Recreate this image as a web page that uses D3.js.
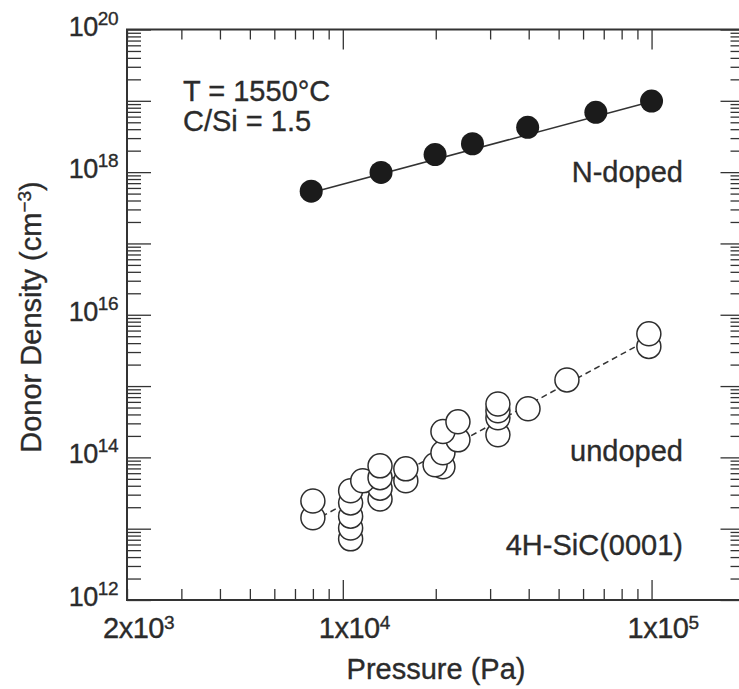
<!DOCTYPE html>
<html>
<head>
<meta charset="utf-8">
<script src="https://cdn.jsdelivr.net/npm/d3@7"></script>
<style>
  html, body { margin: 0; padding: 0; background: #fff; }
  svg { display: block; }
  text { font-family: "Liberation Sans", Arial, Helvetica, sans-serif; fill: #2b2b2b; stroke: #2b2b2b; stroke-width: 0.35px; }
</style>
</head>
<body>
<svg id="chart" width="739" height="689"></svg>
<script>
// N-doped layers (filled symbols)
const nDopedPressure = [7900, 13300, 19900, 26300, 39700, 66000, 100000];
const nDopedDensity  = [5.4e17, 9.9e17, 1.76e18, 2.5e18, 4.25e18, 6.9e18, 9.9e18];
// guide line through the N-doped series
const nDopedFitPressure = [7300, 100000];
const nDopedFitDensity  = [4.7e17, 9.8e18];

// undoped layers (open symbols)
const undopedPressure = [
  8000, 8000,
  10600, 10600, 10600, 10600, 10600,
  11600,
  13200, 13200, 13200, 13200,
  16000, 16000,
  19900,
  21100, 21100, 21100,
  23600, 23600,
  31800, 31800, 31800, 31800,
  39800,
  53200,
  98000, 98000
];
const undopedDensity = [
  2.45e13, 1.42e13,
  3.4e13, 2.3e13, 1.5e13, 1.02e13, 7.2e12,
  4.7e13,
  7.6e13, 5.2e13, 3.7e13, 2.6e13,
  6.9e13, 4.7e13,
  7.9e13,
  1.16e14, 7.4e13, 2.3e14,
  3.15e14, 1.76e14,
  5.6e14, 4.5e14, 3.6e14, 2.07e14,
  4.8e14,
  1.22e15,
  5.4e15, 3.6e15
];
// dashed guide line through the undoped series
const undopedFitPressure = [8000, 98000];
const undopedFitDensity  = [1.27e13, 4.5e15];

// axis ticks and labels
const xDomain = [2e3, 2e5];
const yDomain = [1e12, 1e20];
const xLabelValues    = [2e3, 1e4, 1e5];
const xLabelMantissa  = ["2", "1", "1"];
const xLabelExponent  = ["3", "4", "5"];
const yLabelValues    = [1e12, 1e14, 1e16, 1e18, 1e20];
const yLabelExponent  = ["12", "14", "16", "18", "20"];

const svg = d3.select("#chart");
const plotLeft = 127, plotRight = 744.5, plotTop = 29.5, plotBottom = 600;

const x = d3.scaleLog().domain(xDomain).range([plotLeft, plotRight]);
const y = d3.scaleLog().domain(yDomain).range([plotBottom, plotTop]);

// tick positions: decades (major) and 2..9 multiples (minor)
function logTicks(domain) {
  const major = [], minor = [];
  const lo = Math.floor(Math.log10(domain[0])), hi = Math.ceil(Math.log10(domain[1]));
  for (let e = lo; e <= hi; e++) {
    const d = Math.pow(10, e);
    if (d >= domain[0] && d <= domain[1]) major.push(d);
    for (let m = 2; m <= 9; m++) {
      const v = m * d;
      if (v >= domain[0] * 0.999 && v <= domain[1] * 1.001) minor.push(v);
    }
  }
  return { major, minor };
}
const xt = logTicks(xDomain), yt = logTicks(yDomain);

const tickColor = "#333", tickWidth = 1.3;
function styleAxis(g) {
  g.select(".domain").remove();
  g.selectAll(".tick line").attr("stroke", tickColor).attr("stroke-width", tickWidth);
  g.selectAll(".tick text").remove();
}

// bottom edge, ticks pointing up into the plot
svg.append("g").attr("transform", `translate(0,${plotBottom})`)
  .call(d3.axisTop(x).tickValues(xt.minor).tickSize(11).tickFormat("")).call(styleAxis);
svg.append("g").attr("transform", `translate(0,${plotBottom})`)
  .call(d3.axisTop(x).tickValues(xt.major).tickSize(20).tickFormat("")).call(styleAxis);
// top edge, ticks pointing down
svg.append("g").attr("transform", `translate(0,${plotTop})`)
  .call(d3.axisBottom(x).tickValues(xt.minor).tickSize(10).tickFormat("")).call(styleAxis);
svg.append("g").attr("transform", `translate(0,${plotTop})`)
  .call(d3.axisBottom(x).tickValues(xt.major).tickSize(20).tickFormat("")).call(styleAxis);
// left edge, ticks pointing right
svg.append("g").attr("transform", `translate(${plotLeft},0)`)
  .call(d3.axisRight(y).tickValues(yt.minor).tickSize(14).tickFormat("")).call(styleAxis);
svg.append("g").attr("transform", `translate(${plotLeft},0)`)
  .call(d3.axisRight(y).tickValues(yt.major).tickSize(24).tickFormat("")).call(styleAxis);
// right edge, ticks pointing left
svg.append("g").attr("transform", `translate(${plotRight},0)`)
  .call(d3.axisLeft(y).tickValues(yt.minor).tickSize(14).tickFormat("")).call(styleAxis);
svg.append("g").attr("transform", `translate(${plotRight},0)`)
  .call(d3.axisLeft(y).tickValues(yt.major).tickSize(24).tickFormat("")).call(styleAxis);

// plot frame
svg.append("rect")
  .attr("x", plotLeft).attr("y", plotTop)
  .attr("width", plotRight - plotLeft).attr("height", plotBottom - plotTop)
  .attr("fill", "none").attr("stroke", "#333").attr("stroke-width", 2);

// y tick labels (10 with superscript exponent)
const yl = svg.append("g");
yLabelValues.forEach((v, i) => {
  const t = yl.append("text")
    .attr("x", 118).attr("y", y(v) + 6)
    .attr("text-anchor", "end")
    .style("font-size", "27px")
    .style("letter-spacing", "-0.5px");
  t.append("tspan").text("10");
  t.append("tspan").attr("dy", -11).style("font-size", "19px").text(yLabelExponent[i]);
});

// x tick labels
const xl = svg.append("g");
xLabelValues.forEach((v, i) => {
  const t = xl.append("text")
    .attr("x", x(v) - 24).attr("y", 638)
    .style("font-size", "29px")
    .style("letter-spacing", "-0.5px");
  t.append("tspan").text(xLabelMantissa[i] + "x10");
  t.append("tspan").attr("dy", -9).style("font-size", "19px").text(xLabelExponent[i]);
});

// axis titles
svg.append("text")
  .attr("x", 436).attr("y", 679)
  .attr("text-anchor", "middle")
  .style("font-size", "29px")
  .text("Pressure (Pa)");

const yTitle = svg.append("text")
  .attr("transform", "translate(41,317) rotate(-90)")
  .attr("text-anchor", "middle")
  .style("font-size", "29px");
yTitle.append("tspan").text("Donor Density (cm");
yTitle.append("tspan").attr("dy", -10).style("font-size", "19px").text("\u22123");
yTitle.append("tspan").attr("dy", 10).text(")");

// guide lines
const line = d3.line().x(d => x(d[0])).y(d => y(d[1]));
svg.append("path")
  .datum(d3.zip(nDopedFitPressure, nDopedFitDensity))
  .attr("d", line)
  .attr("fill", "none").attr("stroke", "#333").attr("stroke-width", 1.5);
svg.append("path")
  .datum(d3.zip(undopedFitPressure, undopedFitDensity))
  .attr("d", line)
  .attr("fill", "none").attr("stroke", "#333").attr("stroke-width", 1.5)
  .attr("stroke-dasharray", "6,4");

// undoped symbols: open circles, higher values drawn on top
const undoped = d3.zip(undopedPressure, undopedDensity).sort((a, b) => a[1] - b[1]);
svg.append("g").selectAll("circle")
  .data(undoped).join("circle")
  .attr("cx", d => x(d[0])).attr("cy", d => y(d[1]))
  .attr("r", 12)
  .attr("fill", "#fff").attr("stroke", "#2e2e2e").attr("stroke-width", 1.5);

// N-doped symbols: filled circles
svg.append("g").selectAll("circle")
  .data(d3.zip(nDopedPressure, nDopedDensity)).join("circle")
  .attr("cx", d => x(d[0])).attr("cy", d => y(d[1]))
  .attr("r", 11.5)
  .attr("fill", "#1b1b1b");

// annotations
const ann = svg.append("g").style("font-size", "29px");
ann.append("text").attr("x", 183).attr("y", 101).text("T = 1550\u00b0C");
ann.append("text").attr("x", 183).attr("y", 131).text("C/Si = 1.5");
ann.append("text").attr("x", 683).attr("y", 182).attr("text-anchor", "end").text("N-doped");
ann.append("text").attr("x", 683).attr("y", 461).attr("text-anchor", "end").text("undoped");
ann.append("text").attr("x", 683).attr("y", 555).attr("text-anchor", "end").text("4H-SiC(0001)");
</script>
</body>
</html>
